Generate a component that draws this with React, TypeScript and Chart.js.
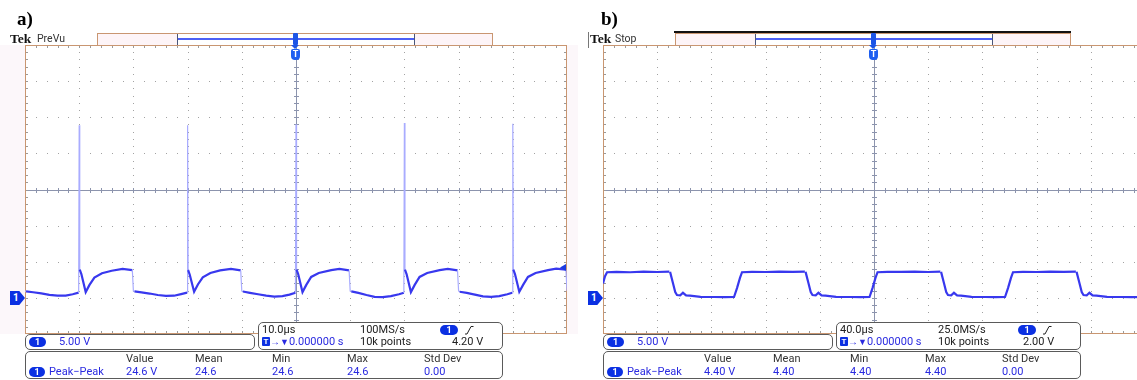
import React, { useEffect, useRef } from "react";
import { Chart, registerables } from "chart.js";

Chart.register(...registerables);

// ---------- data read from the two scope captures ----------
// a) 10.0 µs/div, 5.00 V/div, ground three divisions below centre
const A_TIME_US = [
  -50, -49.8, -48.5, -47, -45.5, -44, -42.5, -41.2, -40.1,
  -40.0, -39.9, -39.6, -38.8, -38.1, -37.2, -35.8, -34, -32, -30.2,
  -30.0, -29.8, -28.5, -27, -25.5, -24, -22.5, -21.2, -20.1,
  -20.0, -19.9, -19.6, -18.8, -18.1, -17.2, -15.8, -14, -12, -10.2,
  -10.0, -9.8, -8.5, -7, -5.5, -4, -2.5, -1.2, -0.1,
  0.0, 0.1, 0.4, 1.2, 1.9, 2.8, 4.2, 6.5, 8, 9.8,
  10.0, 10.2, 11.5, 13, 14.5, 16, 17.5, 19, 19.9,
  20.0, 20.1, 20.4, 21.2, 21.9, 22.8, 24.2, 26.5, 28, 29.8,
  30.0, 30.2, 31.5, 33, 34.5, 36, 37.5, 39, 39.9,
  40.0, 40.1, 40.4, 41.2, 41.9, 42.8, 44.2, 46.5, 48, 49.8,
  50.0,
];
const A_VOLTS = [
  0.95, 0.9, 0.78, 0.62, 0.42, 0.3, 0.32, 0.5, 0.72,
  23.9, 3.9, 3.3, 0.8, 1.8, 2.8, 3.4, 3.75, 4.0, 3.85,
  0.95, 0.9, 0.75, 0.6, 0.4, 0.28, 0.3, 0.52, 0.72,
  23.9, 3.85, 3.2, 0.85, 1.85, 2.85, 3.45, 3.8, 4.0, 3.8,
  0.95, 0.88, 0.7, 0.5, 0.3, 0.18, 0.25, 0.45, 0.7,
  24.0, 3.9, 3.3, 0.8, 1.8, 2.9, 3.45, 3.85, 4.0, 3.8,
  0.95, 0.9, 0.7, 0.4, 0.15, 0.1, 0.25, 0.5, 0.7,
  24.2, 3.9, 3.3, 0.8, 1.8, 2.9, 3.45, 3.85, 4.0, 3.8,
  0.95, 0.85, 0.7, 0.45, 0.22, 0.15, 0.25, 0.5, 0.72,
  24.1, 3.9, 3.3, 0.85, 1.8, 2.9, 3.45, 3.85, 4.05, 3.9,
  1.0,
];

// b) 40.0 µs/div, 5.00 V/div
const B_TIME_US = [
  -200, -198.5, -197, -190, -180, -170, -160, -151,
  -150.5, -148.3, -146.7, -145.4, -143, -141, -138.7, -135.8, -128, -118, -110, -103.3,
  -101.1, -98.9, -97.4, -90, -80, -70, -60, -51,
  -50.5, -48.3, -46.7, -45.4, -43, -41, -38.7, -35.8, -28, -18, -10, -3.3,
  -1.1, 1.1, 2.6, 10, 20, 30, 40, 49,
  49.5, 51.7, 53.3, 54.6, 57, 59, 61.3, 64.2, 72, 82, 90, 96.7,
  98.9, 101.1, 102.6, 110, 120, 130, 140, 149,
  149.5, 151.7, 153.3, 154.6, 157, 159, 161.3, 164.2, 172, 182, 190, 200,
];
const B_VOLTS = [
  2.0, 3.0, 3.55, 3.6, 3.55, 3.62, 3.58, 3.62,
  3.6, 2.0, 0.8, 0.4, 0.35, 0.7, 0.35, 0.3, 0.15, 0.12, 0.1, 0.12,
  1.35, 2.76, 3.55, 3.6, 3.58, 3.62, 3.6, 3.62,
  3.6, 2.0, 0.8, 0.4, 0.35, 0.7, 0.35, 0.3, 0.15, 0.12, 0.1, 0.12,
  1.35, 2.76, 3.55, 3.6, 3.6, 3.62, 3.58, 3.62,
  3.6, 2.0, 0.8, 0.4, 0.35, 0.7, 0.35, 0.3, 0.15, 0.12, 0.1, 0.12,
  1.35, 2.76, 3.55, 3.6, 3.58, 3.62, 3.6, 3.62,
  3.6, 2.0, 0.8, 0.4, 0.35, 0.7, 0.35, 0.3, 0.15, 0.12, 0.1, 0.12,
];

const A_X_RANGE = [-50, 50];
const B_X_RANGE = [-200, 200];
const Y_RANGE_V = [-5, 35];
const A_TRIGGER_V = 4.2;
const B_TRIGGER_V = 2.0;

const MEAS_HEADERS = ["Value", "Mean", "Min", "Max", "Std Dev"];
const A_MEAS = ["24.6 V", "24.6", "24.6", "24.6", "0.00"];
const B_MEAS = ["4.40 V", "4.40", "4.40", "4.40", "0.00"];
const A_INFO = { title: "a)", status: "PreVu", timebase: "10.0µs", rate: "100MS/s", level: "4.20 V" };
const B_INFO = { title: "b)", status: "Stop", timebase: "40.0µs", rate: "25.0MS/s", level: "2.00 V" };
const CH_SCALE = "5.00 V";

// ---------- styles ----------
const TRACE = "#3838ee";
const TRACE_LIGHT = "#a9acff";
const BLUE_TXT = "#2a2ae0";
const BADGE = "#0b30e2";
const TAN = "#c99671";
const SANS = 'Roboto, "Liberation Sans", Arial, sans-serif';
const SERIF = '"Liberation Serif", "DejaVu Serif", serif';

const graticule = {
  id: "graticule",
  beforeDatasetsDraw(chart: any) {
    const { ctx, chartArea: ca, scales } = chart;
    const xs = scales.x, ys = scales.y;
    const xPix = (i: number) => xs.getPixelForValue(xs.min + (i * (xs.max - xs.min)) / 50);
    const yPix = (j: number) => ys.getPixelForValue(ys.max - (j * (ys.max - ys.min)) / 40);
    ctx.save();
    ctx.fillStyle = "#ffffff";
    ctx.fillRect(ca.left, ca.top, ca.right - ca.left, ca.bottom - ca.top);
    // dotted division lines
    ctx.fillStyle = "#a2a2a2";
    for (let i = 5; i < 50; i += 5) {
      if (i === 25) continue;
      const px = Math.round(xPix(i));
      for (let j = 1; j < 40; j++) ctx.fillRect(px, Math.round(yPix(j)), 1, 1);
    }
    for (let j = 5; j < 40; j += 5) {
      if (j === 20) continue;
      const py = Math.round(yPix(j));
      for (let i = 1; i < 50; i++) ctx.fillRect(Math.round(xPix(i)), py, 1, 1);
    }
    // centre cross with minor ticks
    ctx.fillStyle = "#8c94ad";
    const cx = Math.round(xPix(25)), cy = Math.round(yPix(20));
    ctx.fillRect(cx, ca.top, 1, ca.bottom - ca.top);
    ctx.fillRect(ca.left, cy, ca.right - ca.left, 1);
    for (let i = 1; i < 50; i++) ctx.fillRect(Math.round(xPix(i)), cy - 2, 1, 5);
    for (let j = 1; j < 40; j++) ctx.fillRect(cx - 2, Math.round(yPix(j)), 5, 1);
    // edge ticks
    ctx.fillStyle = "#9a9a9a";
    for (let i = 1; i < 50; i++) {
      const px = Math.round(xPix(i));
      ctx.fillRect(px, ca.top, 1, 3);
      ctx.fillRect(px, ca.bottom - 3, 1, 3);
    }
    for (let j = 1; j < 40; j++) {
      const py = Math.round(yPix(j));
      ctx.fillRect(ca.left, py, 3, 1);
      ctx.fillRect(ca.right - 3, py, 3, 1);
    }
    // border
    ctx.strokeStyle = TAN;
    ctx.lineWidth = 1;
    ctx.strokeRect(ca.left + 0.5, ca.top + 0.5, ca.right - ca.left - 1, ca.bottom - ca.top - 1);
    ctx.restore();
  },
  afterDatasetsDraw(chart: any, _a: any, opts: any) {
    if (!opts || !opts.showTrigArrow) return;
    const { ctx, chartArea: ca, scales } = chart;
    const y = scales.y.getPixelForValue(opts.trigger);
    ctx.save();
    ctx.fillStyle = "#1a3ce0";
    ctx.beginPath();
    ctx.moveTo(ca.right - 1, y - 3.5);
    ctx.lineTo(ca.right - 1, y + 3.5);
    ctx.lineTo(ca.right - 7, y);
    ctx.closePath();
    ctx.fill();
    ctx.restore();
  },
};

function Scope({ time, volts, xRange, trigger, showTrigArrow, left }: any) {
  const ref = useRef<HTMLCanvasElement>(null);
  useEffect(() => {
    const chart = new Chart(ref.current as HTMLCanvasElement, {
      type: "line",
      data: {
        datasets: [
          {
            data: time.map((t: number, i: number) => ({ x: t, y: volts[i] })),
            borderColor: TRACE,
            borderWidth: 2.2,
            pointRadius: 0,
            tension: 0,
            fill: false,
            segment: {
              borderColor: (c: any) => (Math.abs(c.p1.x - c.p0.x) < 1.5 ? TRACE_LIGHT : TRACE),
              borderWidth: (c: any) => (Math.abs(c.p1.x - c.p0.x) < 1.5 ? 1.2 : 2.2),
            },
          },
        ],
      },
      options: {
        animation: false,
        responsive: false,
        devicePixelRatio: 1,
        events: [],
        layout: { padding: { left: 25, right: 13, top: 45, bottom: 46 } },
        scales: {
          x: { type: "linear", min: xRange[0], max: xRange[1], display: false },
          y: { type: "linear", min: Y_RANGE_V[0], max: Y_RANGE_V[1], display: false },
        },
        plugins: {
          legend: { display: false },
          tooltip: { enabled: false },
          graticule: { trigger, showTrigArrow },
        } as any,
      },
      plugins: [graticule as any],
    });
    return () => chart.destroy();
  }, []);
  return (
    <canvas
      ref={ref}
      width={580}
      height={380}
      style={{ position: "absolute", left, top: 0, width: 580, height: 380 }}
    />
  );
}

function Txt({ x, y, size = 11, color = "#222", family = SANS, weight = 400, children }: any) {
  const k = family === SERIF ? 0.8375 : 0.842;
  return (
    <div
      style={{
        position: "absolute",
        left: x,
        top: y - k * size,
        fontSize: size,
        lineHeight: `${size}px`,
        fontFamily: family,
        fontWeight: weight,
        color,
        whiteSpace: "nowrap",
      }}
    >
      {children}
    </div>
  );
}

function Badge({ x, y, w = 17, h = 10, label = "1" }: any) {
  return (
    <div
      style={{
        position: "absolute",
        left: x,
        top: y,
        width: w,
        height: h,
        borderRadius: h / 2,
        background: BADGE,
        color: "#fff",
        fontFamily: SANS,
        fontWeight: 700,
        fontSize: 9,
        lineHeight: `${h}px`,
        textAlign: "center",
      }}
    >
      {label}
    </div>
  );
}

function Box({ x, y, w, h }: any) {
  return (
    <div
      style={{
        position: "absolute",
        left: x,
        top: y,
        width: w,
        height: h,
        boxSizing: "border-box",
        border: "1px solid #5a5a5a",
        borderRadius: 5,
        background: "#fff",
      }}
    />
  );
}

function Panel({ off, info, meas, titleX, tekX, black, levelX }: any) {
  const X = (v: number) => v + off;
  const measX = [126, 195, 272, 347, 424];
  return (
    <>
      <Txt x={X(titleX)} y={25} size={19} family={SERIF} weight={700} color="#000">
        {info.title}
      </Txt>
      {black && <div style={{ position: "absolute", left: X(10), top: 32, width: 1, height: 16, background: "#777" }} />}
      <Txt x={X(tekX)} y={43.5} size={13.5} family={SERIF} weight={700} color="#111">
        Tek
      </Txt>
      <Txt x={X(37)} y={42.5} size={10.5} color="#333">
        {info.status}
      </Txt>
      {/* record bar */}
      {black && <div style={{ position: "absolute", left: X(96), top: 31, width: 397, height: 2, background: "#111" }} />}
      <div
        style={{
          position: "absolute",
          left: X(97),
          top: 33,
          width: 396,
          height: 13,
          boxSizing: "border-box",
          border: `1px solid ${TAN}`,
          background: "#fdf4f7",
        }}
      />
      <div style={{ position: "absolute", left: X(177), top: 34, width: 238, height: 11, background: "#fff" }} />
      <div style={{ position: "absolute", left: X(177), top: 34, width: 1, height: 11, background: "#4a5578" }} />
      <div style={{ position: "absolute", left: X(414), top: 34, width: 1, height: 11, background: "#4a5578" }} />
      <div style={{ position: "absolute", left: X(178), top: 38, width: 236, height: 2, background: "#4d60f5" }} />
      {/* trigger position marker */}
      <div style={{ position: "absolute", left: X(293), top: 33, width: 5, height: 12, background: "#1d55e6", borderRadius: 1 }} />
      <div
        style={{
          position: "absolute",
          left: X(291),
          top: 45,
          width: 0,
          height: 0,
          borderLeft: "4.5px solid transparent",
          borderRight: "4.5px solid transparent",
          borderTop: "4px solid #1d55e6",
        }}
      />
      <div
        style={{
          position: "absolute",
          left: X(291),
          top: 49,
          width: 9,
          height: 11,
          background: "#1d5ef0",
          borderRadius: "2px 2px 4px 4px",
          color: "#fff",
          fontFamily: SANS,
          fontWeight: 700,
          fontSize: 9,
          lineHeight: "11px",
          textAlign: "center",
        }}
      >
        T
      </div>
      {/* ground reference flag */}
      <div
        style={{
          position: "absolute",
          left: X(10),
          top: 291,
          width: 15,
          height: 14,
          background: BADGE,
          clipPath: "polygon(0 0, 62% 0, 100% 50%, 62% 100%, 0 100%)",
          color: "#fff",
          fontFamily: SANS,
          fontWeight: 700,
          fontSize: 10,
          lineHeight: "14px",
          paddingLeft: 3,
          boxSizing: "border-box",
        }}
      >
        1
      </div>
      {/* info boxes */}
      <Box x={X(25)} y={334} w={230} h={16} />
      <Badge x={X(29)} y={337} />
      <Txt x={X(59)} y={345} color={BLUE_TXT}>
        {CH_SCALE}
      </Txt>
      <Box x={X(258)} y={322} w={245} h={28} />
      <Txt x={X(262)} y={333.5}>{info.timebase}</Txt>
      <Txt x={X(360)} y={333.5}>{info.rate}</Txt>
      <Badge x={X(440)} y={325} w={18} />
      <svg style={{ position: "absolute", left: X(464), top: 325 }} width={10} height={10}>
        <polyline points="1,9 3,9 7,1.5 9.5,1.5" fill="none" stroke="#222" strokeWidth={1} />
      </svg>
      <div
        style={{
          position: "absolute",
          left: X(262),
          top: 337,
          width: 8,
          height: 9,
          background: BADGE,
          borderRadius: 1,
          color: "#fff",
          fontFamily: SANS,
          fontWeight: 700,
          fontSize: 8,
          lineHeight: "9px",
          textAlign: "center",
        }}
      >
        T
      </div>
      <Txt x={X(270)} y={345} color={BLUE_TXT}>
        <span style={{ fontSize: 10 }}>→</span>
        <span style={{ fontSize: 9 }}>▼</span>0.000000 s
      </Txt>
      <Txt x={X(360)} y={345}>10k points</Txt>
      <Txt x={X(levelX)} y={345}>{info.level}</Txt>
      <Box x={X(25)} y={351} w={478} h={28} />
      {MEAS_HEADERS.map((h: string, i: number) => (
        <Txt key={h} x={X(measX[i])} y={362} color="#333">
          {h}
        </Txt>
      ))}
      <Badge x={X(29)} y={367} w={16} h={10} />
      <Txt x={X(49)} y={375.5} color={BLUE_TXT}>
        Peak−Peak
      </Txt>
      {meas.map((m: string, i: number) => (
        <Txt key={i} x={X(measX[i])} y={375.5} color={BLUE_TXT}>
          {m}
        </Txt>
      ))}
    </>
  );
}

export default function App() {
  return (
    <div
      style={{
        position: "fixed",
        left: 0,
        top: 0,
        width: 1137,
        height: 380,
        overflow: "hidden",
        background: "#fff",
        fontFamily: SANS,
      }}
    >
      {/* pale margins of screen a */}
      <div style={{ position: "absolute", left: 0, top: 45, width: 25, height: 289, background: "#fcf7fa" }} />
      <div style={{ position: "absolute", left: 567, top: 45, width: 11, height: 289, background: "#fcf7fa" }} />
      <Scope time={A_TIME_US} volts={A_VOLTS} xRange={A_X_RANGE} trigger={A_TRIGGER_V} showTrigArrow left={0} />
      <Scope time={B_TIME_US} volts={B_VOLTS} xRange={B_X_RANGE} trigger={B_TRIGGER_V} showTrigArrow={false} left={578} />
      <Panel off={0} info={A_INFO} meas={A_MEAS} titleX={17} tekX={10} black={false} levelX={452} />
      <Panel off={578} info={B_INFO} meas={B_MEAS} titleX={23} tekX={12} black={true} levelX={445} />
    </div>
  );
}
